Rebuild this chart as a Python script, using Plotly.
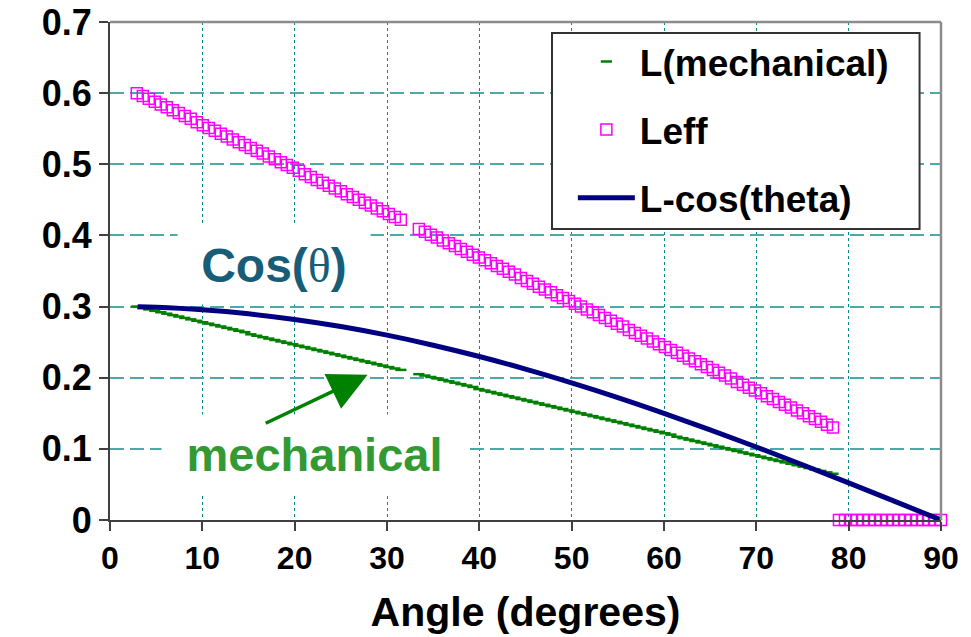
import plotly.graph_objects as go

# ---------------- data ----------------
angle_a = [2.90, 3.55, 4.20, 4.85, 5.50, 6.15, 6.80, 7.45, 8.10, 8.75,
           9.40, 10.05, 10.70, 11.35, 12.00, 12.65, 13.30, 13.95, 14.60, 15.25,
           15.90, 16.55, 17.20, 17.85, 18.50, 19.15, 19.80, 20.45, 21.10, 21.75,
           22.40, 23.05, 23.70, 24.35, 25.00, 25.65, 26.30, 26.95, 27.60, 28.25,
           28.90, 29.55, 30.20, 30.85, 31.50]
angle_b = [33.45, 34.10, 34.75,
           35.40, 36.05, 36.70, 37.35, 38.00, 38.65, 39.30, 39.95, 40.60, 41.25,
           41.90, 42.55, 43.20, 43.85, 44.50, 45.15, 45.80, 46.45, 47.10, 47.75,
           48.40, 49.05, 49.70, 50.35, 51.00, 51.65, 52.30, 52.95, 53.60, 54.25,
           54.90, 55.55, 56.20, 56.85, 57.50, 58.15, 58.80, 59.45, 60.10, 60.75,
           61.40, 62.05, 62.70, 63.35, 64.00, 64.65, 65.30, 65.95, 66.60, 67.25,
           67.90, 68.55, 69.20, 69.85, 70.50, 71.15, 71.80, 72.45, 73.10, 73.75,
           74.40, 75.05, 75.70, 76.35, 77.00, 77.65, 78.30]
angle_c = [78.95, 79.60, 80.25,
           80.90, 81.55, 82.20, 82.85, 83.50, 84.15, 84.80, 85.45, 86.10, 86.75,
           87.40, 88.05, 88.70, 89.35, 90.00]

leff_a = [0.600, 0.596, 0.592, 0.588, 0.584, 0.580, 0.576, 0.572, 0.568, 0.564,
          0.559, 0.555, 0.551, 0.547, 0.543, 0.539, 0.535, 0.531, 0.527, 0.523,
          0.519, 0.515, 0.511, 0.507, 0.503, 0.499, 0.495, 0.491, 0.486, 0.482,
          0.478, 0.474, 0.470, 0.466, 0.462, 0.458, 0.454, 0.450, 0.446, 0.442,
          0.438, 0.434, 0.430, 0.426, 0.422]
leff_b = [0.409, 0.405, 0.401,
          0.397, 0.393, 0.389, 0.385, 0.381, 0.377, 0.373, 0.369, 0.365, 0.361,
          0.357, 0.353, 0.349, 0.345, 0.340, 0.336, 0.332, 0.328, 0.324, 0.320,
          0.316, 0.312, 0.308, 0.304, 0.300, 0.296, 0.292, 0.288, 0.284, 0.280,
          0.276, 0.272, 0.267, 0.263, 0.259, 0.255, 0.251, 0.247, 0.243, 0.239,
          0.235, 0.231, 0.227, 0.223, 0.219, 0.215, 0.211, 0.207, 0.203, 0.199,
          0.194, 0.190, 0.186, 0.182, 0.178, 0.174, 0.170, 0.166, 0.162, 0.158,
          0.154, 0.150, 0.146, 0.142, 0.138, 0.134, 0.130]
leff_c = [0, 0, 0,
          0, 0, 0, 0, 0, 0, 0, 0, 0, 0,
          0, 0, 0, 0, 0]

mech_a = [0.300, 0.298, 0.296, 0.294, 0.292, 0.290, 0.288, 0.286, 0.284, 0.282,
          0.280, 0.278, 0.276, 0.274, 0.272, 0.270, 0.268, 0.266, 0.264, 0.261,
          0.259, 0.257, 0.255, 0.253, 0.251, 0.249, 0.247, 0.245, 0.243, 0.241,
          0.239, 0.237, 0.235, 0.233, 0.231, 0.229, 0.227, 0.225, 0.223, 0.221,
          0.219, 0.217, 0.215, 0.213, 0.211]
mech_b = [0.205, 0.203, 0.201,
          0.199, 0.197, 0.195, 0.193, 0.191, 0.189, 0.187, 0.184, 0.182, 0.180,
          0.178, 0.176, 0.174, 0.172, 0.170, 0.168, 0.166, 0.164, 0.162, 0.160,
          0.158, 0.156, 0.154, 0.152, 0.150, 0.148, 0.146, 0.144, 0.142, 0.140,
          0.138, 0.136, 0.134, 0.132, 0.130, 0.128, 0.126, 0.124, 0.122, 0.120,
          0.117, 0.115, 0.113, 0.111, 0.109, 0.107, 0.105, 0.103, 0.101, 0.099,
          0.097, 0.095, 0.093, 0.091, 0.089, 0.087, 0.085, 0.083, 0.081, 0.079,
          0.077, 0.075, 0.073, 0.071, 0.069, 0.067, 0.065]

cos_angle = [3, 5, 10, 15, 20, 25, 30, 35, 40, 45, 50, 55, 60, 65, 70, 75, 80, 85, 90]
cos_value = [0.2996, 0.2989, 0.2954, 0.2898, 0.2819, 0.2719, 0.2598, 0.2457, 0.2298,
             0.2121, 0.1928, 0.1721, 0.1500, 0.1268, 0.1026, 0.0776, 0.0521, 0.0261, 0.0]

x_ticks = [0, 10, 20, 30, 40, 50, 60, 70, 80, 90]
y_ticks = [0, 0.1, 0.2, 0.3, 0.4, 0.5, 0.6, 0.7]
y_tick_labels = ["0", "0.1", "0.2", "0.3", "0.4", "0.5", "0.6", "0.7"]

FONT = "Liberation Sans, Arial, sans-serif"

fig = go.Figure()

fig.add_trace(go.Scatter(
    x=angle_a + angle_b, y=mech_a + mech_b, mode="markers", name="L(mechanical)",
    legendgroup="a",
    marker=dict(symbol="line-ew", size=8, color="#008000",
                line=dict(color="#008000", width=2.5)),
    cliponaxis=False,
))
fig.add_trace(go.Scatter(
    x=angle_a + angle_b + angle_c, y=leff_a + leff_b + leff_c, mode="markers", name="Leff",
    legendgroup="b",
    marker=dict(symbol="square-open", size=11, color="#ff00ff",
                line=dict(color="#ff00ff", width=1.5)),
    cliponaxis=False,
))
fig.add_trace(go.Scatter(
    x=cos_angle, y=cos_value, mode="lines", name="L-cos(theta)",
    legendgroup="c",
    line=dict(color="#000080", width=5, shape="spline"),
    cliponaxis=False,
))

fig.update_layout(
    width=971, height=637,
    margin=dict(l=109.5, r=29.5, t=22, b=117),
    paper_bgcolor="white", plot_bgcolor="white",
    font=dict(family=FONT, color="black"),
    showlegend=True,
    legend=dict(
        x=0.557, y=0.982, xanchor="left", yanchor="top",
        bgcolor="rgba(0,0,0,0)", borderwidth=0,
        font=dict(family=FONT, size=37, color="black", weight="bold"),
        traceorder="grouped", tracegroupgap=17, itemwidth=57,
    ),
    xaxis=dict(
        range=[0, 90], tickvals=x_ticks, ticktext=[str(v) for v in x_ticks],
        showgrid=True, gridcolor="#008b8b", gridwidth=1, griddash="dot",
        showline=True, linecolor="#404040", linewidth=2,
        ticks="outside", ticklen=9, tickwidth=2, tickcolor="#404040",
        tickfont=dict(family=FONT, size=32, color="black", weight="bold"),
        title=dict(text="Angle (degrees)", standoff=22,
                   font=dict(family=FONT, size=41, color="black", weight="bold")),
        zeroline=False, automargin=False, ticklabeloverflow="allow",
    ),
    yaxis=dict(
        range=[0, 0.7], tickvals=y_ticks, ticktext=y_tick_labels,
        showgrid=True, gridcolor="#4fa8a8", gridwidth=2, griddash="14px,6px",
        showline=True, linecolor="#404040", linewidth=2,
        ticks="outside", ticklen=9, tickwidth=2, tickcolor="#404040",
        tickfont=dict(family=FONT, size=36, color="black", weight="bold"),
        zeroline=False, automargin=False, ticklabeloverflow="allow",
    ),
    shapes=[
        dict(type="line", xref="paper", yref="paper", x0=0, x1=1, y0=1, y1=1,
             line=dict(color="#8c8c8c", width=2.5)),
        dict(type="line", xref="paper", yref="paper", x0=1, x1=1, y0=0, y1=1,
             line=dict(color="#8c8c8c", width=2.5)),
        dict(type="rect", xref="paper", yref="paper",
             x0=0.5319, x1=0.9742, y0=0.5843, y1=0.9779,
             line=dict(color="#333333", width=2), fillcolor="white", layer="above"),
    ],
    annotations=[
        dict(x=17.75, y=0.358, xref="x", yref="y", showarrow=False,
             text="Cos(<span style='font-family:Liberation Serif;font-weight:normal'>θ</span>)",
             font=dict(family=FONT, size=48, color="#175d78", weight="bold"),
             bgcolor="white", width=190, height=76),
        dict(x=22.2, y=0.093, xref="x", yref="y", showarrow=False,
             text="mechanical",
             font=dict(family=FONT, size=47, color="#339933", weight="bold"),
             bgcolor="white", width=303, height=76),
        dict(x=27.9, y=0.204, xref="x", yref="y", ax=16.7, ay=0.135,
             axref="x", ayref="y", text="", showarrow=True,
             arrowhead=2, arrowsize=2.2, arrowwidth=3.5, arrowcolor="#008000"),
    ],
)

fig.write_html("out.html",
               config={"displayModeBar": False},
               post_script="document.body.style.margin='0px';document.body.style.overflow='hidden';")
